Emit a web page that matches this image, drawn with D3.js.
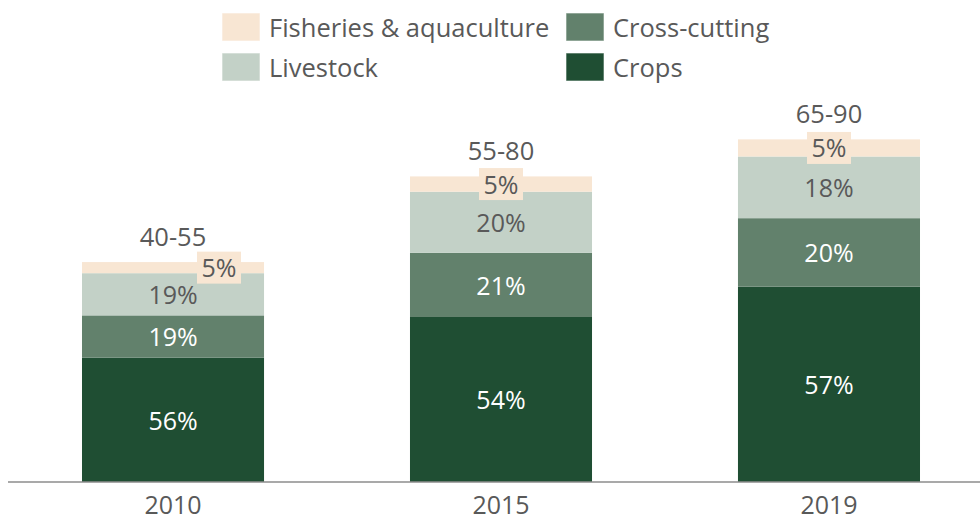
<!DOCTYPE html>
<html><head><meta charset="utf-8">
<script src="https://cdn.jsdelivr.net/npm/d3@7"></script>
<style>body{margin:0;background:#fff;}svg{display:block;font-family:"Open Sans",sans-serif;}</style>
</head><body><svg id="c" width="980" height="521"></svg>
<script>
const years = ["2010", "2015", "2019"];
const rangeLabels = ["40-55", "55-80", "65-90"];
const totals = [47.5, 66, 74];
const series = ["Crops", "Cross-cutting", "Livestock", "Fisheries & aquaculture"];
const crops = [56, 54, 57];
const crossCutting = [19, 21, 20];
const livestock = [19, 20, 18];
const fisheries = [5, 5, 5];
const colors = {"Crops":"#1f4e33","Cross-cutting":"#62816c","Livestock":"#c3d1c7","Fisheries & aquaculture":"#f8e6d3"};
const labelColors = {"Crops":"#ffffff","Cross-cutting":"#ffffff","Livestock":"#595959","Fisheries & aquaculture":"#595959"};

const shares = [crops, crossCutting, livestock, fisheries];
const rows = years.map((y,i)=>{
  const sum = shares.reduce((a,s)=>a+s[i],0);
  const r = {year:y, range:rangeLabels[i], total:totals[i]};
  series.forEach((k,j)=>{ r[k] = shares[j][i]/sum*totals[i]; r[k+"_pct"] = shares[j][i]; });
  return r;
});

const svg = d3.select("#c");
const x = d3.scaleBand().domain(years).range([0, 1002]).paddingInner(0.445).paddingOuter(0.25);
const y = d3.scaleLinear().domain([0, 100]).range([482, 19]);
const stack = d3.stack().keys(series)(rows);

const g = svg.append("g");
stack.forEach(layer=>{
  g.selectAll(null).data(layer).enter().append("rect")
    .attr("x", d=>x(d.data.year)).attr("width", x.bandwidth())
    .attr("y", d=>y(d[1])).attr("height", d=>y(d[0])-y(d[1]))
    .attr("fill", colors[layer.key]);
});

// axis
const ax = svg.append("g").attr("transform","translate(0,482)").call(d3.axisBottom(x).tickSize(0).tickPadding(14));
ax.select(".domain").attr("stroke","#8c8c8c").attr("stroke-width",1.5).attr("d","M8,0H980");
ax.selectAll("text").attr("font-size",25).attr("fill","#595959").attr("font-family","Open Sans");

// segment labels
stack.forEach(layer=>{
  layer.forEach((d,i)=>{
    const cx = x(d.data.year)+x.bandwidth()/2;
    const cy = (y(d[0])+y(d[1]))/2;
    const txt = d.data[layer.key+"_pct"]+"%";
    if(layer.key==="Fisheries & aquaculture"){
      const ox = i===0 ? 46 : 0;
      svg.append("rect").attr("x",cx+ox-22).attr("y",cy-16).attr("width",44).attr("height",32).attr("fill",colors[layer.key]);
      svg.append("text").attr("x",cx+ox).attr("y",cy).attr("dy","0.38em").attr("text-anchor","middle")
        .attr("font-size",25).attr("fill",labelColors[layer.key]).text(txt);
    } else {
      svg.append("text").attr("x",cx).attr("y",cy).attr("dy","0.4em").attr("text-anchor","middle")
        .attr("font-size",25).attr("fill",labelColors[layer.key]).text(txt);
    }
  });
});

// range labels
rows.forEach(r=>{
  svg.append("text").attr("x",x(r.year)+x.bandwidth()/2).attr("y",y(r.total)-25).attr("dy","0.35em")
    .attr("text-anchor","middle").attr("font-size",25.5).attr("fill","#595959").text(r.range);
});

// legend
const legendItems = [
  {k:"Fisheries & aquaculture", x:222, y:13},
  {k:"Cross-cutting", x:566, y:13},
  {k:"Livestock", x:222, y:53},
  {k:"Crops", x:566, y:53}
];
const lg = svg.append("g");
legendItems.forEach(it=>{
  lg.append("rect").attr("x",it.x).attr("y",it.y).attr("width",38).attr("height",28).attr("fill",colors[it.k])
    .attr("stroke","#ffffff").attr("stroke-opacity",0.6).attr("stroke-width",1);
  lg.append("text").attr("x",it.x+47).attr("y",it.y+15).attr("dy","0.35em").attr("font-size",25.5).attr("fill","#595959").text(it.k);
});
</script></body></html>
